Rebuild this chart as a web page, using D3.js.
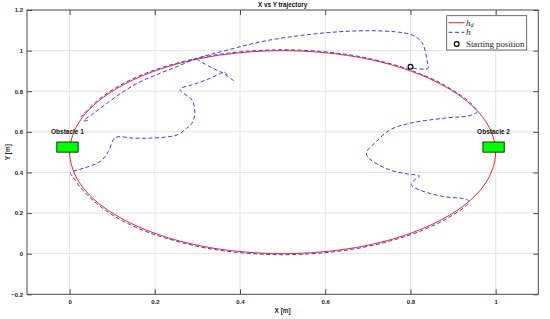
<!DOCTYPE html>
<html><head><meta charset="utf-8">
<script src="https://cdn.jsdelivr.net/npm/d3@7"></script>
<style>body{margin:0;background:#fff}svg{display:block}</style>
</head><body>
<svg id="c" width="550" height="319"></svg>
<script>
// ---- data ----
const xTicks = [0, 0.2, 0.4, 0.6, 0.8, 1];
const yTicks = [-0.2, 0, 0.2, 0.4, 0.6, 0.8, 1, 1.2];
const xGrid = [0, 0.2, 0.4, 0.6, 0.8, 1];
const yGrid = [0, 0.2, 0.4, 0.6, 0.8, 1];

// desired trajectory h_d (read around the ellipse)
const hdX = [1.000,0.992,0.970,0.933,0.883,0.821,0.750,0.671,0.587,0.500,0.413,0.329,0.250,0.179,0.117,0.067,0.030,0.008,
             0.000,0.008,0.030,0.067,0.117,0.179,0.250,0.329,0.413,0.500,0.587,0.671,0.750,0.821,0.883,0.933,0.970,0.992];
const hdY = [0.500,0.587,0.671,0.750,0.821,0.883,0.933,0.970,0.992,1.000,0.992,0.970,0.933,0.883,0.821,0.750,0.671,0.587,
             0.500,0.413,0.329,0.250,0.179,0.117,0.067,0.030,0.008,0.000,0.008,0.030,0.067,0.117,0.179,0.250,0.329,0.413];

// actual trajectory h, split in pieces
const hTrack = [[0.026,0.672],[0.064,0.752],[0.114,0.824],[0.176,0.886],[0.248,0.936],[0.328,0.974],[0.412,0.996],
  [0.500,1.004],[0.588,0.996],[0.672,0.974],[0.752,0.936],[0.790,0.912],[0.823,0.885],[0.856,0.856],[0.885,0.823],
  [0.912,0.788],[0.936,0.752],[0.952,0.717],[0.957,0.700],[0.941,0.681],[0.882,0.668],[0.798,0.642],[0.751,0.609],
  [0.720,0.552],[0.700,0.511],[0.697,0.486],[0.712,0.454],[0.751,0.413],[0.794,0.392],[0.821,0.383],[0.810,0.364],
  [0.802,0.339],[0.821,0.314],[0.876,0.282],[0.934,0.265],[0.936,0.250],[0.887,0.175],[0.825,0.113],[0.753,0.063],
  [0.673,0.025],[0.588,0.003],[0.500,-0.005],[0.412,0.003],[0.327,0.025],[0.248,0.063],[0.175,0.113],[0.113,0.175],
  [0.063,0.248],[0.025,0.327],[0.012,0.365],[0.006,0.383],[0.002,0.398],[0.033,0.421],[0.072,0.454],[0.091,0.503],
  [0.107,0.571],[0.150,0.569],[0.189,0.569],[0.252,0.585],[0.275,0.618],[0.287,0.642],[0.294,0.691],[0.287,0.757],
  [0.259,0.809],[0.290,0.833],[0.322,0.857],[0.354,0.887],[0.362,0.895],[0.370,0.880]];
const hLoop = [[0.806,0.913],[0.841,0.913],[0.840,0.940],[0.836,0.985],[0.830,1.030],[0.818,1.060],[0.800,1.080],
  [0.767,1.092],[0.704,1.098],[0.626,1.092],[0.548,1.076],[0.470,1.052],[0.411,1.025],[0.369,1.002],[0.330,0.981],
  [0.298,0.961],[0.255,0.924],[0.212,0.888],[0.166,0.847],[0.126,0.798],[0.088,0.741],[0.056,0.691],[0.033,0.654],[0.046,0.658]];
const hBranch = [[0.298,0.958],[0.330,0.920],[0.361,0.888],[0.388,0.847]];
const startPos = [0.80, 0.92];

const obstacleNames = ["Obstacle 1", "Obstacle 2"];
const obstacleX0 = [-0.03, 0.97];
const obstacleX1 = [0.02, 1.02];
const obstacleY0 = [0.50, 0.50];
const obstacleY1 = [0.55, 0.55];

// ---- drawing ----
const svg = d3.select("#c");
const L = 27, R = 538.3, T = 10, B = 294.3;
const x = d3.scaleLinear().domain([-0.1, 1.1]).range([L, R]);
const y = d3.scaleLinear().domain([-0.2, 1.2]).range([B, T]);
const font = "'Liberation Sans', Arial, sans-serif";
const axisCol = "#4a4a4a";

svg.append("rect").attr("x", L).attr("y", T).attr("width", R - L).attr("height", B - T).attr("fill", "#fff");

const g = svg.append("g");
g.selectAll(".vg").data(xGrid).join("line")
  .attr("x1", d => x(d)).attr("x2", d => x(d)).attr("y1", T).attr("y2", B)
  .attr("stroke", "#e3e3e3").attr("stroke-width", 1);
g.selectAll(".hg").data(yGrid).join("line")
  .attr("y1", d => y(d)).attr("y2", d => y(d)).attr("x1", L).attr("x2", R)
  .attr("stroke", "#e3e3e3").attr("stroke-width", 1);

// axes (ticks inward, box)
const tl = 5;
const ax = d3.axisBottom(x).tickValues(xTicks).tickSize(-tl).tickPadding(5).tickFormat(d3.format("~g"));
const ay = d3.axisLeft(y).tickValues(yTicks).tickSize(-tl).tickPadding(4).tickFormat(d3.format("~g"));
const axT = d3.axisTop(x).tickValues(xTicks).tickSize(-tl).tickFormat("");
const ayR = d3.axisRight(y).tickValues(yTicks).tickSize(-tl).tickFormat("");
function style(sel){
  sel.select(".domain").remove();
  sel.selectAll("line").attr("stroke", axisCol);
  sel.selectAll("text").attr("font-family", font).attr("font-size", 6).attr("font-weight", "bold").attr("fill", "#262626");
}
svg.append("g").attr("transform", `translate(0,${B})`).call(ax).call(style);
svg.append("g").attr("transform", `translate(${L},0)`).call(ay).call(style);
svg.append("g").attr("transform", `translate(0,${T})`).call(axT).call(style);
svg.append("g").attr("transform", `translate(${R},0)`).call(ayR).call(style);
svg.append("rect").attr("x", L).attr("y", T).attr("width", R - L).attr("height", B - T)
  .attr("fill", "none").attr("stroke", axisCol).attr("stroke-width", 1);

// desired trajectory
const hdPts = hdX.map((v, i) => [v, hdY[i]]);
const lineC = d3.line().x(d => x(d[0])).y(d => y(d[1])).curve(d3.curveCatmullRomClosed);
svg.append("path").attr("d", lineC(hdPts)).attr("fill", "none").attr("stroke", "#ff2020").attr("stroke-width", 1);

// actual trajectory
const lineO = d3.line().x(d => x(d[0])).y(d => y(d[1])).curve(d3.curveCatmullRom.alpha(0.5));
[hTrack, hLoop, hBranch].forEach(seg => {
  svg.append("path").attr("d", lineO(seg)).attr("fill", "none")
    .attr("stroke", "#3a3aff").attr("stroke-width", 1).attr("stroke-dasharray", "4,2.5");
});

// obstacles
obstacleNames.forEach((n, i) => {
  svg.append("rect").attr("x", x(obstacleX0[i])).attr("y", y(obstacleY1[i]))
    .attr("width", x(obstacleX1[i]) - x(obstacleX0[i])).attr("height", y(obstacleY0[i]) - y(obstacleY1[i]))
    .attr("fill", "#00ff00").attr("stroke", "#000").attr("stroke-width", 0.8);
  svg.append("text").attr("x", x((obstacleX0[i] + obstacleX1[i]) / 2)).attr("y", y(obstacleY1[i]) - 7.5)
    .attr("text-anchor", "middle").attr("font-family", font).attr("font-size", 6.5).attr("font-weight", "bold")
    .attr("fill", "#111").text(n);
});

// start marker
svg.append("circle").attr("cx", x(startPos[0])).attr("cy", y(startPos[1])).attr("r", 2.4)
  .attr("fill", "none").attr("stroke", "#000").attr("stroke-width", 1.2);

// title & labels
svg.append("text").attr("x", (L + R) / 2).attr("y", 7).attr("text-anchor", "middle")
  .attr("font-family", font).attr("font-size", 6.3).attr("font-weight", "bold").attr("fill", "#111").text("X vs Y trajectory");
svg.append("text").attr("x", (L + R) / 2).attr("y", 312.5).attr("text-anchor", "middle")
  .attr("font-family", font).attr("font-size", 6.5).attr("font-weight", "bold").attr("fill", "#262626").text("X [m]");
svg.append("text").attr("transform", `translate(9.5,${(T + B) / 2}) rotate(-90)`).attr("text-anchor", "middle")
  .attr("font-family", font).attr("font-size", 6.5).attr("font-weight", "bold").attr("fill", "#262626").text("Y [m]");

// legend
const lg = svg.append("g");
lg.append("rect").attr("x", 446.7).attr("y", 15.7).attr("width", 80).attr("height", 34.3)
  .attr("fill", "#fff").attr("stroke", "#4a4a4a").attr("stroke-width", 0.8);
const serif = "'Liberation Serif', 'Times New Roman', serif";
lg.append("line").attr("x1", 448.5).attr("x2", 464.5).attr("y1", 22.7).attr("y2", 22.7).attr("stroke", "#ff2020").attr("stroke-width", 1);
lg.append("line").attr("x1", 448.5).attr("x2", 464.5).attr("y1", 32.3).attr("y2", 32.3).attr("stroke", "#3a3aff")
  .attr("stroke-width", 1).attr("stroke-dasharray", "4,2.5");
lg.append("circle").attr("cx", 456.7).attr("cy", 44).attr("r", 2.4).attr("fill", "none").attr("stroke", "#000").attr("stroke-width", 1.2);
const t1 = lg.append("text").attr("x", 466).attr("y", 25.5).attr("font-family", serif).attr("font-size", 9).attr("fill", "#222");
t1.append("tspan").attr("font-style", "italic").text("h");
t1.append("tspan").attr("font-style", "italic").attr("font-size", 6).attr("dy", 1.8).text("d");
lg.append("text").attr("x", 466).attr("y", 35).attr("font-family", serif).attr("font-size", 9).attr("font-style", "italic").attr("fill", "#222").text("h");
lg.append("text").attr("x", 466).attr("y", 47).attr("font-family", serif).attr("font-size", 8.8).attr("fill", "#222").text("Starting position");
</script>
</body></html>
